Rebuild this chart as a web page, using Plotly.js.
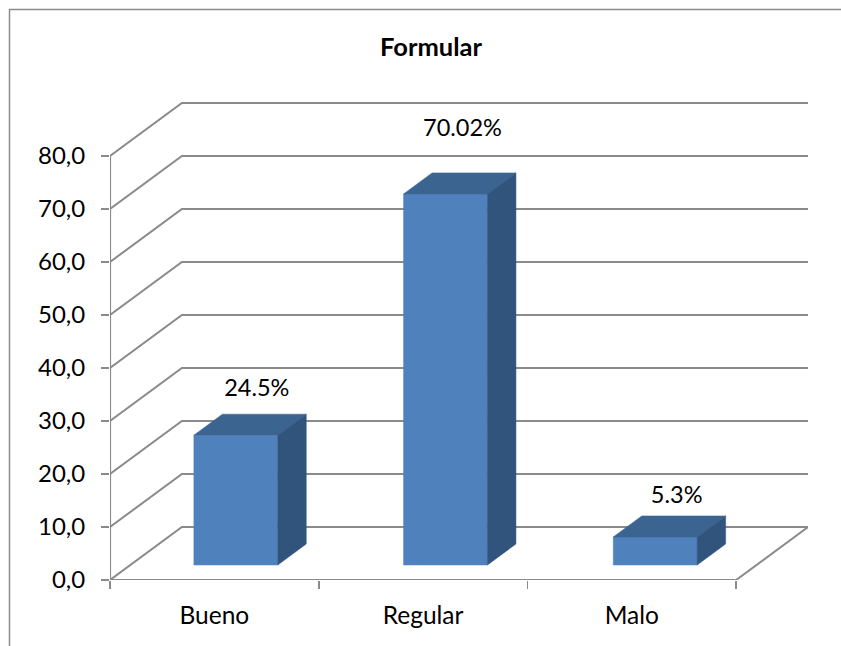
<!DOCTYPE html>
<html>
<head>
<meta charset="utf-8">
<script src="https://cdn.plot.ly/plotly-3.0.1.min.js"></script>
<style>html,body{margin:0;padding:0;background:#fff;overflow:hidden}#c{width:841px;height:646px}</style>
</head>
<body>
<div id="c"></div>
<script>
const categories = ['Bueno', 'Regular', 'Malo'];
const values = [24.5, 70.02, 5.3];
const valueLabels = ['24.5%', '70.02%', '5.3%'];
const yTicks = [0, 10, 20, 30, 40, 50, 60, 70, 80];
const chartTitle = 'Formular';

// oblique projection, in axis units
const depthX = 72 / 209, depthY = 10;
const barPitch = 210 / 209, barLeft = 84 / 209, barWidth = 84 / 209;
const barDepthStart = 15 / 53, barDepth = 21 / 53;
const labelLift = [4.5, 8.1, 3.5], labelShiftX = [21 / 209, 17 / 209, 21.5 / 209];

const GRID = '#8a8a8a', FONT = 'Lato, Carlito, Calibri, sans-serif', INK = '#000';
const W = 698, H = 478;

const traces = [];
const lineTrace = (x, y, w) => ({x, y, type: 'scatter', mode: 'lines', hoverinfo: 'skip',
  line: {color: GRID, width: w, simplify: false}, showlegend: false});

// floor, walls
const nCats = categories.length;
yTicks.forEach(v => {
  traces.push(lineTrace([0, depthX, nCats + depthX], [v, v + depthY, v + depthY], 2));
});
traces.push(lineTrace([nCats, nCats + depthX], [0, depthY], 2));
traces.push(lineTrace([0, nCats], [0, 0], 2.2));
traces.push(lineTrace([0, 0], [0, yTicks[yTicks.length - 1]], 2.2));

// bar faces
const faceFront = {x: [], y: []}, faceTop = {x: [], y: []}, faceSide = {x: [], y: []};
values.forEach((v, i) => {
  const x0 = i * barPitch + barLeft, x1 = x0 + barWidth;
  const b = barDepthStart * depthY, t = b + v;
  const dx = barDepth * depthX, dy = barDepth * depthY;
  faceFront.x.push(x0, x1, x1, x0, x0, null); faceFront.y.push(b, b, t, t, b, null);
  faceTop.x.push(x0, x1, x1 + dx, x0 + dx, x0, null); faceTop.y.push(t, t, t + dy, t + dy, t, null);
  faceSide.x.push(x1, x1 + dx, x1 + dx, x1, x1, null); faceSide.y.push(b, b + dy, t + dy, t, b, null);
});
[[faceFront, '#4F81BD'], [faceTop, '#3C6491'], [faceSide, '#30547C']].forEach(([f, c]) => {
  traces.push({x: f.x, y: f.y, type: 'scatter', mode: 'lines', fill: 'toself', fillcolor: c,
    line: {color: c, width: 0.5}, hoverinfo: 'skip', showlegend: false});
});

// data labels
traces.push({
  x: values.map((v, i) => i * barPitch + barLeft + barWidth / 2 + labelShiftX[i]),
  y: values.map((v, i) => v + barDepthStart * depthY + barDepth * depthY + labelLift[i]),
  text: valueLabels, type: 'scatter', mode: 'text', textposition: 'middle center',
  textfont: {family: FONT, size: 23.5, color: INK}, hoverinfo: 'skip', showlegend: false
});

const px = p => (p - 110) / W, py = p => (580 - p) / H;

const layout = {
  width: 841, height: 646,
  margin: {l: 110, r: 33, t: 102, b: 66},
  paper_bgcolor: '#fff', plot_bgcolor: 'rgba(0,0,0,0)',
  separators: ',.',
  showlegend: false,
  title: {text: '<b>' + chartTitle + '</b>', x: 431 / 841, xref: 'container', xanchor: 'center',
    y: 1 - 47 / 646, yref: 'container', yanchor: 'middle',
    font: {family: FONT, size: 25.5, color: INK}},
  xaxis: {
    range: [0, nCats + depthX], showgrid: false, zeroline: false, showline: false,
    tickmode: 'array', tickvals: categories.map((c, i) => i + 0.5), ticktext: categories,
    ticks: '', tickfont: {family: FONT, size: 24.5, color: INK}, ticklabelstandoff: 18,
    minor: {tickmode: 'array', tickvals: [0, 1, 2, 3], ticks: 'outside', ticklen: 8,
      tickwidth: 1.8, tickcolor: GRID, showgrid: false}
  },
  yaxis: {
    range: [0, 80 * H / 424], showgrid: false, zeroline: false, showline: false,
    tickmode: 'array', tickvals: yTicks, tickformat: '.1f',
    ticks: 'outside', ticklen: 8, tickwidth: 1.8, tickcolor: GRID,
    tickfont: {family: FONT, size: 24, color: INK}, ticklabelstandoff: 11
  },
  shapes: [{type: 'path', xref: 'paper', yref: 'paper', layer: 'below',
    path: `M ${px(9.5)} ${py(646)} L ${px(9.5)} ${py(9.5)} L ${px(841)} ${py(9.5)}`,
    line: {color: '#8c8c8c', width: 1.5}}]
};

Plotly.newPlot('c', traces, layout, {displayModeBar: false, staticPlot: true});
</script>
</body>
</html>
